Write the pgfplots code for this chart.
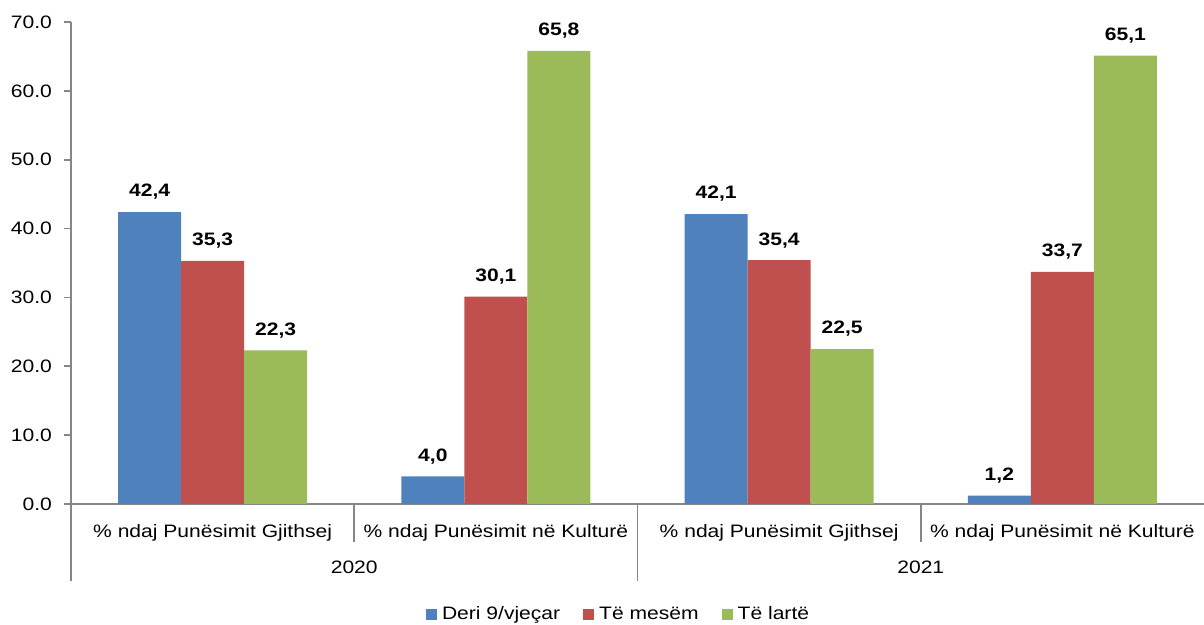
\documentclass[border=0pt]{standalone}
\usepackage{fontspec}
\setmainfont[FakeStretch=1.17]{Liberation Sans}
\usepackage{pgfplots}
\pgfplotsset{compat=1.18}
\definecolor{cblue}{HTML}{4F81BD}
\definecolor{cred}{HTML}{C0504D}
\definecolor{cgreen}{HTML}{9BBB59}
\definecolor{axgray}{HTML}{868686}
\newcommand\cf{\fontsize{9}{10.8}\selectfont}
\begin{document}
\begin{tikzpicture}
\useasboundingbox (0,0) rectangle (602pt,312.5pt);
\begin{axis}[
  at={(35.5pt,60.5pt)}, anchor=south west,
  scale only axis, width=566.5pt, height=241pt,
  ymin=0, ymax=70, ytick distance=10,
  xmin=-0.5, xmax=3.5, xtick={0,1,2,3},
  xticklabels={\% ndaj Punësimit Gjithsej,\% ndaj Punësimit në Kulturë,\% ndaj Punësimit Gjithsej,\% ndaj Punësimit në Kulturë},
  ybar=0pt, bar width=31.5pt,
  axis x line*=bottom, axis y line*=left,
  axis line style={axgray, line width=0.9pt, -},
  tick align=outside, major tick length=3.5pt,
  ytick style={axgray, line width=0.9pt},
  xtick style={draw=none},
  tick label style={font=\cf, black},
  yticklabel style={/pgf/number format/.cd, fixed, fixed zerofill, precision=1, assume math mode=true, /tikz/.cd, xshift=-2.5pt},
  xticklabel style={yshift=-3pt},
  clip=false,
  nodes near coords={\pgfmathprintnumber[fixed,fixed zerofill,precision=1,use comma,assume math mode=true]{\pgfplotspointmeta}},
  nodes near coords style={font=\cf\bfseries, black, anchor=south, inner sep=0pt, yshift=6pt},
  legend columns=-1,
  legend style={draw=none, fill=none, at={(0.4846,-0.2293)}, anchor=center, font=\cf,
    nodes={inner xsep=2.5pt},
    /tikz/every even column/.append style={column sep=9pt}},
  legend image code/.code={\fill[#1] (0pt,-2.75pt) rectangle (5.5pt,2.75pt);},
]
\addplot[fill=cblue, draw=none] coordinates {(0,42.4) (1,4.0) (2,42.1) (3,1.2)};
\addplot[fill=cred, draw=none] coordinates {(0,35.3) (1,30.1) (2,35.4) (3,33.7)};
\addplot[fill=cgreen, draw=none] coordinates {(0,22.3) (1,65.8) (2,22.5) (3,65.1)};
\legend{Deri 9/vjeçar, Të mesëm, Të lartë}
\draw[axgray, line width=0.9pt] (axis cs:0.5,0) -- ++(0pt,-19pt);
\draw[axgray, line width=0.9pt] (axis cs:2.5,0) -- ++(0pt,-19pt);
\draw[axgray, line width=0.9pt] (axis cs:-0.5,0) -- ++(0pt,-38.5pt);
\draw[axgray, line width=0.9pt] (axis cs:1.5,0) -- ++(0pt,-38.5pt);
\node[font=\cf, black] at (axis cs:0.5,0) [yshift=-31.5pt] {2020};
\node[font=\cf, black] at (axis cs:2.5,0) [yshift=-31.5pt] {2021};
\end{axis}
\end{tikzpicture}
\end{document}
